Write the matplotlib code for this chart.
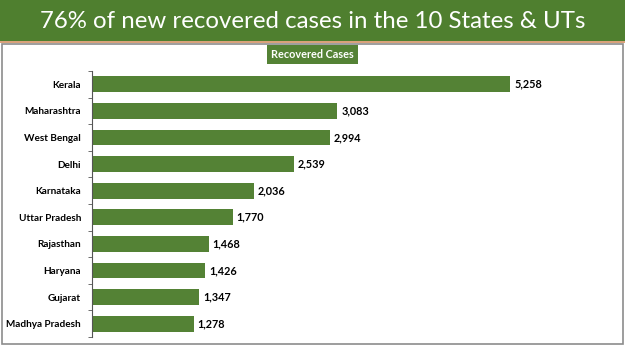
import matplotlib.pyplot as plt
from matplotlib.patches import Rectangle
from matplotlib.ticker import FixedLocator, NullLocator

states = ["Kerala", "Maharashtra", "West Bengal", "Delhi", "Karnataka",
          "Uttar Pradesh", "Rajasthan", "Haryana", "Gujarat", "Madhya Pradesh"]
recovered = [5258, 3083, 2994, 2539, 2036, 1770, 1468, 1426, 1347, 1278]

title = "76% of new recovered cases in the 10 States & UTs"
legend_label = "Recovered Cases"

green = "#548235"
W, H = 625, 351

fig = plt.figure(figsize=(W / 100, H / 100), dpi=100)
fig.patch.set_facecolor("white")

# banner + frame
fig.add_artist(Rectangle((0, 1 - 41 / H), 1, 41 / H, transform=fig.transFigure,
                         facecolor="#4f7f2f", edgecolor="none"))
fig.add_artist(Rectangle((0, 1 - 42.5 / H), 1, 1.5 / H, transform=fig.transFigure,
                         facecolor="#d9a27a", edgecolor="none"))
fig.add_artist(Rectangle((2 / W, 1 - 344 / H), 621 / W, 300 / H, transform=fig.transFigure,
                         facecolor="none", edgecolor="#8c8c8c", linewidth=1.2))
fig.text(0.5, 1 - 21 / H, title, ha="center", va="center", color="white",
         fontsize=17.3, family="Lato")

# legend box
fig.text(0.5, 1 - 54.5 / H, legend_label, ha="center", va="center", color="white",
         fontsize=7.8, family="Lato", weight="bold",
         bbox=dict(boxstyle="square,pad=0.4", facecolor=green, edgecolor="none"))

ax = fig.add_axes([92 / W, 1 - 337 / H, 509 / W, 266 / H])
y = list(range(len(states)))
bars = ax.barh(y, recovered, height=0.6, color=green)
ax.set_xlim(0, 6400)
ax.set_ylim(len(states) - 0.5, -0.5)
ax.set_yticks(y)
ax.set_yticklabels(states, fontsize=7.2, family="Lato", weight="bold")
ax.yaxis.set_minor_locator(FixedLocator([i - 0.5 for i in range(len(states) + 1)]))
ax.tick_params(axis="y", which="major", length=0, pad=8)
ax.tick_params(axis="y", which="minor", length=3, direction="out", color="#555555")
ax.xaxis.set_major_locator(NullLocator())
for s in ["top", "right", "bottom"]:
    ax.spines[s].set_visible(False)
ax.spines["left"].set_color("#555555")
ax.spines["left"].set_linewidth(0.8)

for yi, v in zip(y, recovered):
    ax.text(v + 50, yi, f"{v:,}", va="center", ha="left", fontsize=7.8,
            family="Lato", weight="bold", color="black")

fig.savefig("out.png", dpi=100)
